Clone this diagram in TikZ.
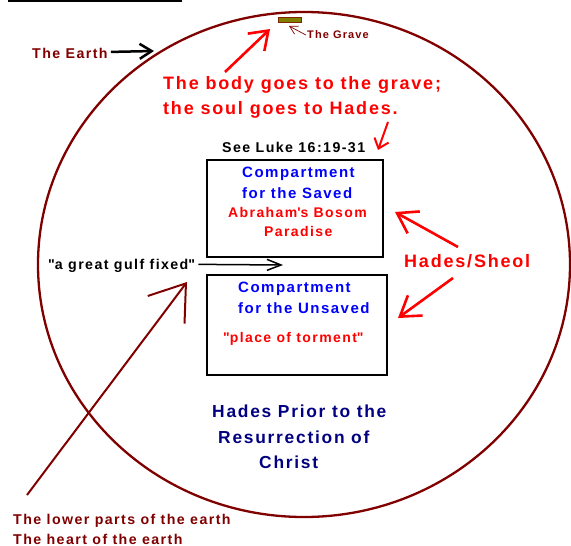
\documentclass[tikz,border=0pt]{standalone}
\usepackage{fontspec}
\setmainfont{Liberation Sans}[LetterSpace=10]
\usepackage{tikz}
\usetikzlibrary{arrows.meta,shapes.geometric,positioning}
\definecolor{earthred}{HTML}{800000}
\definecolor{hadesnavy}{HTML}{000080}
\definecolor{graveolive}{HTML}{808000}
\tikzset{
    lbl/.style={inner sep=0pt, anchor=base west},
    earthlbl/.style={lbl, text=earthred, font=\bfseries\fontsize{14.2}{16}\selectfont},
    gravelbl/.style={lbl, text=earthred, font=\bfseries\fontsize{11}{13}\selectfont},
    bigred/.style={lbl, text=red, font=\bfseries\fontsize{18}{20}\selectfont},
    smallred/.style={lbl, text=red, font=\bfseries\fontsize{14}{16}\selectfont},
    comptxt/.style={lbl, text=blue, font=\bfseries\fontsize{15}{17}\selectfont},
    blacklbl/.style={lbl, text=black, font=\bfseries\fontsize{14.2}{16}\selectfont},
    navylbl/.style={lbl, text=hadesnavy, font=\bfseries\fontsize{17.4}{20}\selectfont},
    compartment/.style={rectangle, draw, line width=2.4pt, inner sep=0pt},
    earthline/.style={ellipse, draw=earthred, line width=2.3pt, inner sep=0pt},
    grave/.style={rectangle, draw=earthred!70!graveolive, fill=graveolive, line width=0.8pt, inner sep=0pt},
    redarrow/.style={red, line width=2.6pt, -{Straight Barb[length=19pt, width=25pt]}},
    smallredarrow/.style={red, line width=2pt, -{Straight Barb[length=9pt, width=15pt]}},
    deeparrow/.style={earthred, line width=2pt, -{Straight Barb[length=33pt, width=46pt]}},
    pointer/.style={black, line width=2.5pt, -{Straight Barb[length=12pt, width=15pt]}},
    gulfarrow/.style={black, line width=1.5pt, -{Straight Barb[length=14pt, width=11pt]}},
    gravearrow/.style={earthred, line width=0.7pt, -{Straight Barb[length=8pt, width=9pt]}},
}

\begin{document}
\begin{tikzpicture}[x=1pt, y=-1pt]
    \useasboundingbox (0,0) rectangle (571,546);

    % the earth and the grave
    \node[earthline, minimum width=532pt, minimum height=505pt] (earth) at (304,264.5) {};
    \draw[line width=2pt] (8,1) -- (182,1);
    \node[grave, minimum width=23pt, minimum height=5pt] (grave) at (289.5,19.5) {};

    % labels
    \node[earthlbl] (earthname) at (32,58) {The Earth};
    \node[gravelbl] (gravename) at (307,38) {The Grave};
    \node[bigred] (body1) at (163,89) {The body goes to the grave;};
    \node[bigred] (body2) at (163,114) {the soul goes to Hades.};
    \node[blacklbl] (luke) at (222,152) {See Luke 16:19-31};

    % the two compartments
    \node[compartment, minimum width=176pt, minimum height=97pt] (saved) at (295,208.5) {};
    \node[comptxt] (saved1) at (242,177) {Compartment};
    \node[comptxt] (saved2) at (242,198) {for the Saved};
    \node[smallred] (saved3) at (228,217) {Abraham\textquotesingle s Bosom};
    \node[smallred] (saved4) at (264,236) {Paradise};

    \node[compartment, minimum width=180pt, minimum height=100pt] (unsaved) at (297,325) {};
    \node[comptxt] (unsaved1) at (238,292) {Compartment};
    \node[comptxt] (unsaved2) at (238,313) {for the Unsaved};
    \node[smallred] (unsaved3) at (223,342) {\textquotedbl place of torment\textquotedbl};

    \node[blacklbl] (gulf) at (48,269) {\textquotedbl a great gulf fixed\textquotedbl};
    \node[bigred] (sheol) at (404,267) {Hades/Sheol};

    \node[navylbl] (prior1) at (212,417) {Hades Prior to the};
    \node[navylbl] (prior2) at (218,443) {Resurrection of};
    \node[navylbl] (prior3) at (259,468) {Christ};

    \node[earthlbl] (lower1) at (13,524) {The lower parts of the earth};
    \node[earthlbl] (lower2) at (13,544) {The heart of the earth};

    % arrow ends
    \coordinate (earthtip) at (154,51);
    \coordinate (gravetip) at (289,26);
    \coordinate (bodytail) at (225,72);
    \coordinate (bodytip) at (270,29);
    \coordinate (luketail) at (388,122);
    \coordinate (luketip) at (378,150);
    \coordinate (gulftip) at (283,265);
    \coordinate (sheolup) at (458,247);
    \coordinate (sheoldown) at (453,278);
    \coordinate (savedtip) at (395,212);
    \coordinate (unsavedtip) at (398,318);
    \coordinate (deeptail) at (27,495);
    \coordinate (deeptip) at (187,282);

    % arrows
    \draw[pointer] (earthname.east) ++(3,-1) -- (earthtip);
    \draw[gravearrow] (gravename.west) ++(-1,1) -- (gravetip);
    \draw[redarrow, -{Straight Barb[length=17pt, width=24pt]}] (bodytail) -- (bodytip);
    \draw[smallredarrow] (luketail) -- (luketip);
    \draw[gulfarrow] (gulf.east) ++(3,-1) -- (gulftip);
    \draw[redarrow] (sheolup) -- (savedtip);
    \draw[redarrow] (sheoldown) -- (unsavedtip);
    \draw[deeparrow] (deeptail) -- (deeptip);
\end{tikzpicture}
\end{document}
